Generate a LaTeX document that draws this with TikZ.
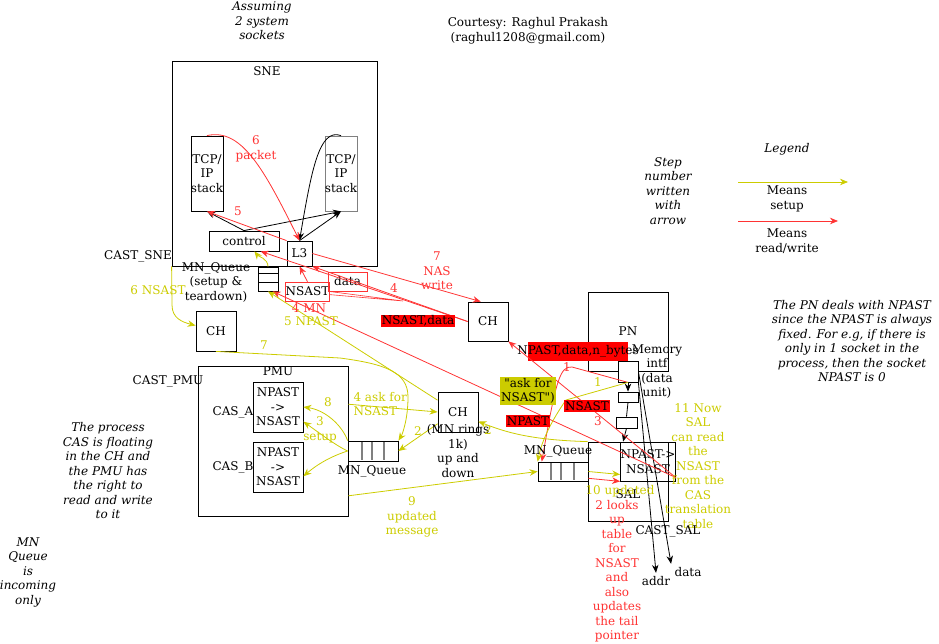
\documentclass[tikz,border=0pt]{standalone}
\usepackage{fontspec}
\setmainfont{DejaVu Serif}
\usetikzlibrary{arrows.meta}
\definecolor{ylw}{RGB}{204,204,0}
\definecolor{rdl}{RGB}{255,51,51}

\begin{document}
\begin{tikzpicture}[x=1pt,y=-1pt,
  font=\fontsize{12}{14.5}\selectfont,
  every node/.style={align=center},
  box/.style={draw,line width=0.8pt,inner sep=0pt},
  blk/.style={line width=0.8pt,-{Stealth[length=8pt,width=6.5pt]}},
  yl/.style={ylw,line width=0.8pt,-{Stealth[length=8pt,width=6.5pt]}},
  rd/.style={rdl,line width=0.8pt,-{Stealth[length=8pt,width=6.5pt]}},
  note/.style={font=\fontsize{12}{14.5}\selectfont\itshape}]
\useasboundingbox (0,0) rectangle (939,644);

% SNE
\node[box,minimum width=205pt,minimum height=205pt] (sne) at (274.5,163.5) {};
\node (sneLbl) at (267,71) {SNE};
\node[box,minimum width=30pt,minimum height=75pt] (tcpL) at (207,173.5) {TCP/\\IP\\stack};
\node[box,draw=gray,minimum width=30pt,minimum height=75pt] (tcpR) at (341,173.5) {TCP/\\IP\\stack};
\node[box,minimum width=70pt,minimum height=20pt] (ctrl) at (244,241) {control};
\node[box,minimum width=25pt,minimum height=25pt] (L3) at (299.5,253.5) {L3};
\node[box,minimum width=20pt,minimum height=24pt] (sneQ) at (268,279) {};
\draw[line width=0.8pt] (258,273) -- (278,273) (258,282) -- (278,282);
\node[box,minimum size=40pt] (chL) at (216,331) {CH};
\node[draw=rdl,line width=0.6pt,inner sep=0pt,minimum width=41pt,minimum height=19pt] (nsastBox) at (307.5,291.5) {NSAST};
\node[draw=rdl,line width=0.6pt,inner sep=0pt,minimum width=39pt,minimum height=19pt] (dataBox) at (347.5,281.5) {data};

% CH, PN, SAL
\node[box,minimum width=40pt,minimum height=39pt] (chM) at (488,321.5) {CH};
\node[box,minimum size=40pt] (chB) at (458,412) {CH};
\node[box,minimum width=80pt,minimum height=79pt] (pn) at (628,331.5) {PN};
\fill[red] (528,342) rectangle (628,361);
\node[box,fill=white,minimum width=20pt,minimum height=21pt] (mem) at (628,371.5) {};
\node[box,minimum width=20pt,minimum height=10pt] (box2) at (628,397) {};
\node[box,minimum width=21pt,minimum height=11pt] (box3) at (626.5,422.5) {};
\node[box,minimum width=80pt,minimum height=79pt] (sal) at (628,481.5) {};
\node[box,minimum width=40pt,minimum height=39pt] (npastS) at (648,461.5) {NPAST->\\NSAST};
\node[box,minimum width=50pt,minimum height=19pt] (salQ) at (563,471.5) {};
\foreach \x in {551,561,574} \draw[gray,line width=1.5pt] (\x,463) -- (\x,480);

% PMU
\node[box,minimum size=150pt] (pmu) at (273,441) {};
\node[box,minimum size=50pt] (casA) at (278,407) {NPAST\\->\\NSAST};
\node[box,minimum size=50pt] (casB) at (278,467) {NPAST\\->\\NSAST};
\node[box,minimum width=50pt,minimum height=20pt] (pmuQ) at (373,451) {};
\foreach \x in {362,372,384} \draw[gray,line width=1.5pt] (\x,442) -- (\x,460);

\node (addrLbl) at (656,581) {addr};
\node (dataLbl) at (688,572) {data};

% black arrows
\draw[blk] (ctrl.north) -- (tcpL.south);
\draw[blk] (ctrl.north) -- (tcpR.south);
\draw[blk] (L3.north) -- (tcpR.south);
\draw[blk] (tcpR.north) .. controls +(-22,-8) and +(12,-70) .. (L3.north);
\draw[blk] (mem.south) -- (box2.north);
\draw[line width=0.8pt] (box2.south) -- (box3.north);
\draw[blk] (box3.south) -- (sal.97);
\draw[blk] (mem.east) -- (dataLbl.north west);
\draw[blk] (mem.south east) -- (addrLbl.north);

% red arrows
\draw[rd] (tcpL.north) .. controls +(35,-8) and +(-35,-70) .. (L3.north);
\draw[rd] (L3.north west) -- (tcpL.south);
\draw[rd] (L3.east) -- (chM.110);
\draw[rd] (chM.west) -- (ctrl.-32);
\draw[rd] (chM.west) -- (L3.south east);
\draw[rd] (nsastBox.north) -- (L3.south);
\coordinate (w4) at (403,301);
\draw[rdl,line width=0.6pt] (nsastBox.east) -- (w4) -- (nsastBox.-8);
\draw[rd] (npastS.-30) -- (sneQ.-70);
\draw[rd] (npastS.-30) -- (chM.south east);
\draw[rd] (mem.south) -- (572,367) .. controls (560,366) and (556,380) .. (salQ.155);
\draw[rd] (salQ.-15) -- (npastS.south west);

% yellow arrows
\draw[yl] (sne.south west) -- (172,305) .. controls (172,318) and (182,322) .. (chL.165);
\draw[yl] (sneQ.north) .. controls +(0,-8) and +(4,5) .. (ctrl.-45);
\draw[yl] (chB.150) -- (sneQ.south);
\draw[yl] (chL.south) -- (340,358) .. controls (385,364) and (408,372) .. (408,397) .. controls (408,420) and (402,435) .. (pmuQ.north east);
\draw[yl] (pmu.26) -- (chB.west);
\draw[yl] (chB.-150) -- (pmuQ.east);
\draw[yl] (sal.north west) .. controls (530,440) and (505,432) .. (chB.-25);
\draw[yl] (pmu.-36) -- (salQ.west);
\draw[yl] (salQ.east) -- (npastS.-155);
\draw[yl] (pmuQ.north west) .. controls (342,425) and (325,410) .. (casA.east);
\draw[yl] (pmuQ.west) .. controls (335,445) and (318,432) .. (casA.-30);
\draw[yl] (pmuQ.west) .. controls (335,455) and (320,462) .. (casB.-20);
\draw[yl] (mem.south) -- (566,400) .. controls (552,420) and (542,440) .. (salQ.north west);

% labels
\node[note] (assume) at (262,21) {Assuming\\2 system\\sockets};
\node (courtesy) at (528,31) {Courtesy: Raghul Prakash\\(raghul1208@gmail.com)};
\node (castSne) at (138,256) {CAST\_SNE};
\node (sneQLbl) at (216,282) {MN\_Queue\\(setup \&\\teardown)};
\node[text=rdl] (l6) at (256,149) {6\\packet};
\node[text=rdl] (l5) at (238,211) {5};
\node[text=rdl] (l7) at (437,271) {7\\NAS\\write};
\node[text=ylw] (l6ns) at (158,290) {6 NSAST};
\node[text=rdl] (l4mn) at (309,308) {4 MN};
\node[text=ylw] (l5np) at (311,321) {5 NPAST};
\node[text=rdl] (l4) at (394,288) {4};
\node[fill=red,inner sep=1pt] (lNsData) at (418,321) {NSAST,data};
\node[text=ylw] (l7y) at (264,345) {7};
\node (castPmu) at (168,381) {CAST\_PMU};
\node (pmuLbl) at (278,371) {PMU};
\node (casALbl) at (233,412) {CAS\_A};
\node (casBLbl) at (233,467) {CAS\_B};
\node[text=ylw] (l8) at (328,402) {8};
\node[text=ylw] (l3s) at (320,430) {3\\setup};
\node[text=ylw,anchor=west,align=left] (l4ask) at (350,404) {4 ask for\\NSAST};
\node (pmuQLbl) at (372,471) {MN\_Queue};
\node[text=ylw] (l2a) at (418,431) {2};
\node (chBLbl) at (458,451) {(MN rings\\1k)\\up and\\down};
\node[text=ylw] (l2b) at (488,430) {2};
\node[text=ylw] (l9) at (412,517) {9\\updated\\message};
\node[fill=ylw,inner sep=1pt] (lAsk) at (528,391) {\textquotedbl ask for\\NSAST\textquotedbl)};
\node[fill=red,inner sep=1pt] (lNpast) at (528,421) {NPAST};
\node (lNdn) at (578,351) {NPAST,data,n\_bytes};
\node (memLbl) at (657,371.5) {Memory\\intf\\(data\\unit)};
\node[text=rdl] (l1r) at (567,367) {1};
\node[text=ylw] (l1y) at (598,382) {1};
\node[fill=red,inner sep=1pt] (lNs3) at (587,406) {NSAST};
\node[text=rdl] (l3) at (598,421) {3};
\node (salQLbl) at (558,451) {MN\_Queue};
\node (salLbl) at (628,494) {SAL};
\node[text=ylw] (l10) at (620,491) {10 updated};
\node[text=rdl] (l2look) at (617,571) {2 looks\\up\\table\\for\\NSAST\\and\\also\\updates\\the tail\\pointer};
\node[text=ylw] (l11) at (698,466) {11 Now\\SAL\\can read\\the\\NSAST\\from the\\CAS\\translation\\table};
\node (castSal) at (668,531) {CAST\_SAL};

% legend and notes
\node[note] (legend) at (787,149) {Legend};
\coordinate (legYa) at (738,182);
\coordinate (legYb) at (848,182);
\draw[yl] (legYa) -- (legYb);
\node (legSetup) at (787,199) {Means\\setup};
\coordinate (legRa) at (738,221);
\coordinate (legRb) at (838,221);
\draw[rd] (legRa) -- (legRb);
\node (legRw) at (787,241) {Means\\read/write};
\node[note] (stepNote) at (668,191) {Step\\number\\written\\with\\arrow};
\node[note] (pnNote) at (852,341) {The PN deals with NPAST\\since the NPAST is always\\fixed. For e.g, if there is\\only in 1 socket in the\\process, then the socket\\NPAST is 0};
\node[note] (casNote) at (108,471) {The process\\CAS is floating\\in the CH and\\the PMU has\\the right to\\read and write\\to it};
\node[note] (mnNote) at (28,572) {MN\\Queue\\is\\incoming\\only};
\end{tikzpicture}
\end{document}
